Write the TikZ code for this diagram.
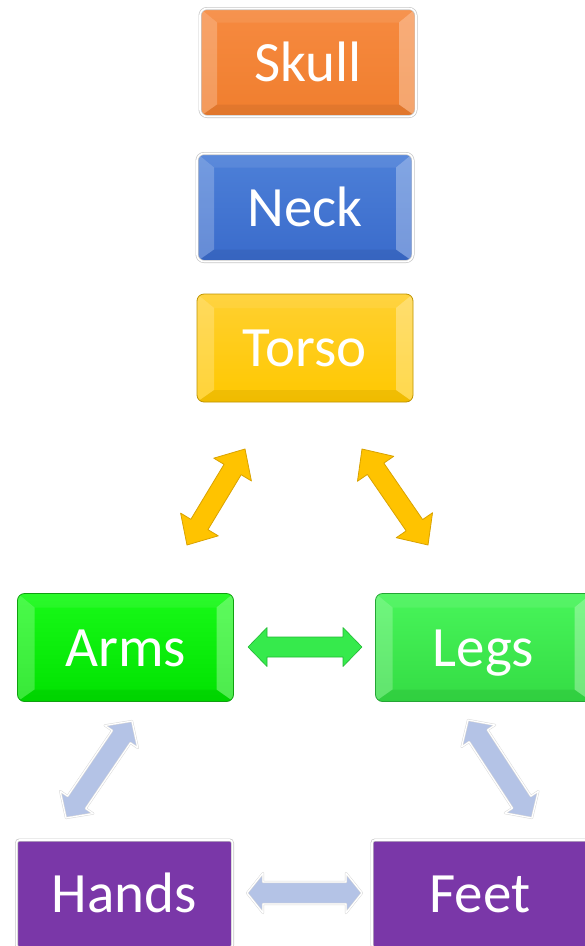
\documentclass[tikz,border=0pt]{standalone}
\usepackage{fontspec}
\setmainfont{Carlito}
\usetikzlibrary{calc}
\definecolor{orangeT}{HTML}{F68A40}
\definecolor{orangeB}{HTML}{F07E2E}
\definecolor{blueT}{HTML}{4D80D8}
\definecolor{blueB}{HTML}{3A6BCB}
\definecolor{yelT}{HTML}{FFD030}
\definecolor{yelB}{HTML}{FFC800}
\definecolor{yelD}{HTML}{BF9400}
\definecolor{grnT}{HTML}{18FA18}
\definecolor{grnB}{HTML}{00E200}
\definecolor{grnD}{HTML}{10A010}
\definecolor{lgrnT}{HTML}{48F55A}
\definecolor{lgrnB}{HTML}{34DC44}
\definecolor{lgrnD}{HTML}{25A535}
\definecolor{purp}{HTML}{7A37A8}
\definecolor{yarr}{HTML}{FFC300}
\definecolor{yarrD}{HTML}{D9A200}
\definecolor{garr}{HTML}{36EA4C}
\definecolor{garrD}{HTML}{22B834}
\definecolor{lav}{HTML}{B4C3E6}
\newcommand\dblarr[6]{%
  \coordinate (h1) at ($(#1)!#4!(#2)$);
  \coordinate (h2) at ($(#2)!#4!(#1)$);
  \draw[#3] (#1) -- ($(h1)!#5!90:(#2)$) -- ($(h1)!#6!90:(#2)$)
    -- ($(h2)!#6!-90:(#1)$) -- ($(h2)!#5!-90:(#1)$) -- (#2)
    -- ($(h2)!#5!90:(#1)$) -- ($(h2)!#6!90:(#1)$)
    -- ($(h1)!#6!-90:(#2)$) -- ($(h1)!#5!-90:(#2)$) -- cycle;
}
\begin{document}
\begin{tikzpicture}[x=1pt,y=-1pt,
  box/.style={rounded corners=7pt, minimum width=216pt, minimum height=108pt,
    inner sep=0pt, outer sep=0pt, text=white,
    font=\fontsize{57}{60}\selectfont, text height=37pt, text depth=0pt},
  bevel/.style={path picture={
    \coordinate (nw) at (path picture bounding box.north west);
    \coordinate (ne) at (path picture bounding box.north east);
    \coordinate (sw) at (path picture bounding box.south west);
    \coordinate (se) at (path picture bounding box.south east);
    \fill[white,opacity=.22,sharp corners] (nw) -- ($(nw)+(17pt,-14pt)$) -- ($(sw)+(17pt,12pt)$) -- (sw) -- cycle;
    \fill[white,opacity=.30,sharp corners] (ne) -- ($(ne)+(-17pt,-14pt)$) -- ($(se)+(-17pt,12pt)$) -- (se) -- cycle;
    \fill[white,opacity=.08,sharp corners] (nw) -- (ne) -- ($(ne)+(-17pt,-14pt)$) -- ($(nw)+(17pt,-14pt)$) -- cycle;
    \fill[black,opacity=.06,sharp corners] (sw) -- (se) -- ($(se)+(-17pt,12pt)$) -- ($(sw)+(17pt,12pt)$) -- cycle;
  }},
  frameA/.style={draw=gray!45, double=white, double distance=1.6pt, line width=0.7pt},
  yarrow/.style={fill=yarr, draw=yarrD, line width=0.8pt, line join=round},
  garrow/.style={fill=garr, draw=garrD, line width=0.6pt, line join=round},
  larrow/.style={fill=lav, draw=gray!30, double=white, double distance=1.2pt, line width=0.5pt, line join=round},
]
\useasboundingbox (0,0) rectangle (585,946);

% boxes
\node[box, bevel, frameA, top color=orangeT, bottom color=orangeB] (skull) at (308,62.5) {Skull};
\node[box, bevel, frameA, top color=blueT, bottom color=blueB] (neck) at (305,207.5) {Neck};
\node[box, bevel, draw=yelD, line width=0.8pt, top color=yelT, bottom color=yelB] (torso) at (305,348) {Torso};
\node[box, bevel, draw=grnD, line width=0.8pt, top color=grnT, bottom color=grnB] (arms) at (125.5,647.5) {Arms};
\node[box, bevel, draw=lgrnD, line width=0.8pt, top color=lgrnT, bottom color=lgrnB] (legs) at (483.5,647.5) {Legs};
\node[box, rounded corners=3pt, frameA, fill=purp] (hands) at (124.5,894) {Hands};
\node[box, rounded corners=3pt, frameA, fill=purp] (feet) at (480,894) {Feet};

% arrow end points
\coordinate (ta1) at (245,449);
\coordinate (ta2) at (187,545);
\coordinate (tb1) at (362,449);
\coordinate (tb2) at (428,545);
\coordinate (al1) at (248,647);
\coordinate (al2) at (362,647);
\coordinate (ah1) at (132,721);
\coordinate (ah2) at (66,818);
\coordinate (lf1) at (468,720);
\coordinate (lf2) at (532,818);
\coordinate (hf1) at (247,893);
\coordinate (hf2) at (362,893);

\dblarr{ta1}{ta2}{yarrow}{24pt}{22pt}{10pt}
\dblarr{tb1}{tb2}{yarrow}{24pt}{22pt}{10pt}
\dblarr{al1}{al2}{garrow}{19pt}{19.5pt}{10pt}
\dblarr{ah1}{ah2}{larrow}{19pt}{20pt}{11pt}
\dblarr{lf1}{lf2}{larrow}{19pt}{20pt}{11pt}
\dblarr{hf1}{hf2}{larrow}{16pt}{20pt}{11pt}
\end{tikzpicture}
\end{document}
